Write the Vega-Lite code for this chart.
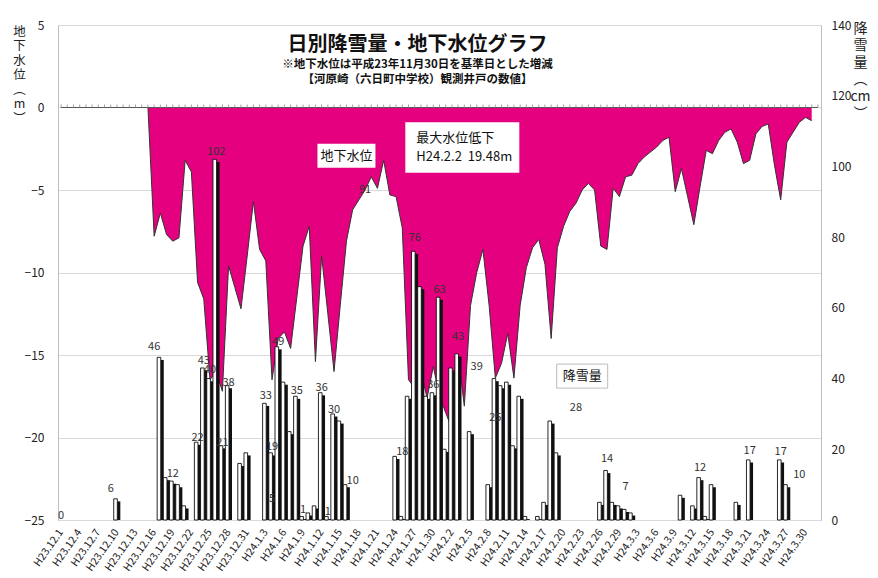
{
  "$schema": "https://vega.github.io/schema/vega-lite/v6.json",
  "width": 763,
  "height": 495,
  "autosize": {"type": "none"},
  "padding": {"left": 58, "top": 25, "right": 57, "bottom": 58},
  "background": "white",
  "config": {
    "font": "Noto Sans CJK JP",
    "view": {"stroke": null},
    "axis": {"labelFont": "Noto Sans CJK JP", "titleFont": "Noto Sans CJK JP", "labelColor": "#222", "titleColor": "#222", "titleFontWeight": "normal"}
  },
  "title": {
    "text": "日別降雪量・地下水位グラフ",
    "subtitle": ["※地下水位は平成23年11月30日を基準日とした増減", "【河原崎（六日町中学校）観測井戸の数値】"],
    "anchor": "middle",
    "frame": "group",
    "offset": -66,
    "dx": -22,
    "fontSize": 20,
    "fontWeight": "bold",
    "color": "#111",
    "subtitleFontSize": 11.5,
    "subtitleFontWeight": "bold",
    "subtitleColor": "#111",
    "subtitleLineHeight": 15,
    "subtitlePadding": 3.5
  },
  "data": {
    "values": [
      {"d": "H23.12.1", "gw": 0, "sn": 0, "lab": "0", "lv": 1},
      {"d": "H23.12.2", "gw": 0, "sn": 0},
      {"d": "H23.12.3", "gw": 0, "sn": 0},
      {"d": "H23.12.4", "gw": 0, "sn": 0},
      {"d": "H23.12.5", "gw": 0, "sn": 0},
      {"d": "H23.12.6", "gw": 0, "sn": 0},
      {"d": "H23.12.7", "gw": 0, "sn": 0},
      {"d": "H23.12.8", "gw": 0, "sn": 0},
      {"d": "H23.12.9", "gw": 0, "sn": 0, "lab": "6", "lv": 8.8},
      {"d": "H23.12.10", "gw": 0, "sn": 6},
      {"d": "H23.12.11", "gw": 0, "sn": 0},
      {"d": "H23.12.12", "gw": 0, "sn": 0},
      {"d": "H23.12.13", "gw": 0, "sn": 0},
      {"d": "H23.12.14", "gw": 0, "sn": 0},
      {"d": "H23.12.15", "gw": 0, "sn": 0},
      {"d": "H23.12.16", "gw": -7.8, "sn": 0, "lab": "46", "lv": 49},
      {"d": "H23.12.17", "gw": -6.4, "sn": 46},
      {"d": "H23.12.18", "gw": -7.7, "sn": 12},
      {"d": "H23.12.19", "gw": -8.1, "sn": 11, "lab": "12", "lv": 13},
      {"d": "H23.12.20", "gw": -7.9, "sn": 10},
      {"d": "H23.12.21", "gw": -3.2, "sn": 4},
      {"d": "H23.12.22", "gw": -3.9, "sn": 0},
      {"d": "H23.12.23", "gw": -10.6, "sn": 22, "lab": "22", "lv": 23.2},
      {"d": "H23.12.24", "gw": -11.6, "sn": 43, "lab": "43", "lv": 44.9},
      {"d": "H23.12.25", "gw": -16.5, "sn": 40, "lab": "40", "lv": 42.4},
      {"d": "H23.12.26", "gw": -16.0, "sn": 102, "lab": "102", "lv": 104},
      {"d": "H23.12.27", "gw": -17.2, "sn": 21, "lab": "21", "lv": 21.9},
      {"d": "H23.12.28", "gw": -9.6, "sn": 38, "lab": "38", "lv": 38.8},
      {"d": "H23.12.29", "gw": -10.9, "sn": 0},
      {"d": "H23.12.30", "gw": -12.2, "sn": 16},
      {"d": "H23.12.31", "gw": -9.0, "sn": 19},
      {"d": "H24.1.1", "gw": -5.7, "sn": 0},
      {"d": "H24.1.2", "gw": -8.6, "sn": 0},
      {"d": "H24.1.3", "gw": -9.3, "sn": 33, "lab": "33", "lv": 35.1},
      {"d": "H24.1.4", "gw": -16.5, "sn": 19, "lab": "19", "lv": 20.6, "lab2": "5", "lv2": 5.9},
      {"d": "H24.1.5", "gw": -14.0, "sn": 49, "lab": "49", "lv": 50.4},
      {"d": "H24.1.6", "gw": -13.6, "sn": 39},
      {"d": "H24.1.7", "gw": -14.6, "sn": 25},
      {"d": "H24.1.8", "gw": -11.5, "sn": 35, "lab": "35", "lv": 36.4},
      {"d": "H24.1.9", "gw": -8.4, "sn": 1, "lab": "1", "lv": 2.8},
      {"d": "H24.1.10", "gw": -7.2, "sn": 2},
      {"d": "H24.1.11", "gw": -15.4, "sn": 4},
      {"d": "H24.1.12", "gw": -9.0, "sn": 36, "lab": "36", "lv": 37.2},
      {"d": "H24.1.13", "gw": -12.5, "sn": 1, "lab": "1", "lv": 2.3},
      {"d": "H24.1.14", "gw": -16.0, "sn": 30, "lab": "30", "lv": 31.1},
      {"d": "H24.1.15", "gw": -12.0, "sn": 28},
      {"d": "H24.1.16", "gw": -8.1, "sn": 10},
      {"d": "H24.1.17", "gw": -6.2, "sn": 0, "lab": "10", "lv": 11},
      {"d": "H24.1.18", "gw": -5.6, "sn": 0},
      {"d": "H24.1.19", "gw": -5.0, "sn": 0, "lab": "91", "lv": 93.3},
      {"d": "H24.1.20", "gw": -4.2, "sn": 0},
      {"d": "H24.1.21", "gw": -4.9, "sn": 0},
      {"d": "H24.1.22", "gw": -3.2, "sn": 0},
      {"d": "H24.1.23", "gw": -5.3, "sn": 0},
      {"d": "H24.1.24", "gw": -5.4, "sn": 18},
      {"d": "H24.1.25", "gw": -7.3, "sn": 1, "lab": "18", "lv": 19.3},
      {"d": "H24.1.26", "gw": -16.5, "sn": 35},
      {"d": "H24.1.27", "gw": -17.0, "sn": 76, "lab": "76", "lv": 79.8},
      {"d": "H24.1.28", "gw": -16.0, "sn": 66},
      {"d": "H24.1.29", "gw": -17.6, "sn": 35},
      {"d": "H24.1.30", "gw": -15.7, "sn": 36, "lab": "36", "lv": 38.1},
      {"d": "H24.1.31", "gw": -17.5, "sn": 63, "lab": "63", "lv": 65},
      {"d": "H24.2.1", "gw": -18.5, "sn": 20},
      {"d": "H24.2.2", "gw": -19.48, "sn": 43},
      {"d": "H24.2.3", "gw": -15.0, "sn": 47, "lab": "43", "lv": 51.8},
      {"d": "H24.2.4", "gw": -18.1, "sn": 0},
      {"d": "H24.2.5", "gw": -12.0, "sn": 25},
      {"d": "H24.2.6", "gw": -10.0, "sn": 0, "lab": "39", "lv": 43.3},
      {"d": "H24.2.7", "gw": -8.6, "sn": 0},
      {"d": "H24.2.8", "gw": -12.0, "sn": 10},
      {"d": "H24.2.9", "gw": -16.4, "sn": 40, "lab": "25", "lv": 28.9},
      {"d": "H24.2.10", "gw": -15.5, "sn": 38},
      {"d": "H24.2.11", "gw": -13.7, "sn": 39},
      {"d": "H24.2.12", "gw": -16.4, "sn": 21},
      {"d": "H24.2.13", "gw": -12.0, "sn": 35},
      {"d": "H24.2.14", "gw": -9.7, "sn": 1},
      {"d": "H24.2.15", "gw": -8.5, "sn": 0},
      {"d": "H24.2.16", "gw": -8.0, "sn": 1},
      {"d": "H24.2.17", "gw": -9.5, "sn": 5},
      {"d": "H24.2.18", "gw": -14.0, "sn": 28},
      {"d": "H24.2.19", "gw": -8.5, "sn": 19},
      {"d": "H24.2.20", "gw": -7.2, "sn": 0},
      {"d": "H24.2.21", "gw": -6.3, "sn": 0},
      {"d": "H24.2.22", "gw": -5.8, "sn": 0, "lab": "28", "lv": 31.7},
      {"d": "H24.2.23", "gw": -5.0, "sn": 0},
      {"d": "H24.2.24", "gw": -4.6, "sn": 0},
      {"d": "H24.2.25", "gw": -5.0, "sn": 0},
      {"d": "H24.2.26", "gw": -8.4, "sn": 5},
      {"d": "H24.2.27", "gw": -8.6, "sn": 14, "lab": "14", "lv": 17.2},
      {"d": "H24.2.28", "gw": -4.9, "sn": 5},
      {"d": "H24.2.29", "gw": -5.4, "sn": 4},
      {"d": "H24.3.1", "gw": -4.2, "sn": 3, "lab": "7", "lv": 9.4},
      {"d": "H24.3.2", "gw": -4.1, "sn": 2},
      {"d": "H24.3.3", "gw": -3.4, "sn": 0},
      {"d": "H24.3.4", "gw": -3.0, "sn": 0},
      {"d": "H24.3.5", "gw": -2.7, "sn": 0},
      {"d": "H24.3.6", "gw": -2.4, "sn": 0},
      {"d": "H24.3.7", "gw": -2.0, "sn": 0},
      {"d": "H24.3.8", "gw": -1.8, "sn": 0},
      {"d": "H24.3.9", "gw": -5.1, "sn": 0},
      {"d": "H24.3.10", "gw": -3.7, "sn": 7},
      {"d": "H24.3.11", "gw": -5.4, "sn": 0},
      {"d": "H24.3.12", "gw": -7.1, "sn": 4},
      {"d": "H24.3.13", "gw": -4.8, "sn": 12, "lab": "12", "lv": 14.8},
      {"d": "H24.3.14", "gw": -2.6, "sn": 1},
      {"d": "H24.3.15", "gw": -2.8, "sn": 10},
      {"d": "H24.3.16", "gw": -2.0, "sn": 0},
      {"d": "H24.3.17", "gw": -1.5, "sn": 0},
      {"d": "H24.3.18", "gw": -1.3, "sn": 0},
      {"d": "H24.3.19", "gw": -2.1, "sn": 5},
      {"d": "H24.3.20", "gw": -3.4, "sn": 0},
      {"d": "H24.3.21", "gw": -3.2, "sn": 17, "lab": "17", "lv": 19.5},
      {"d": "H24.3.22", "gw": -1.6, "sn": 0},
      {"d": "H24.3.23", "gw": -1.15, "sn": 0},
      {"d": "H24.3.24", "gw": -1.0, "sn": 0},
      {"d": "H24.3.25", "gw": -3.5, "sn": 0},
      {"d": "H24.3.26", "gw": -5.6, "sn": 17, "lab": "17", "lv": 19.3},
      {"d": "H24.3.27", "gw": -2.1, "sn": 10},
      {"d": "H24.3.28", "gw": -1.5, "sn": 0},
      {"d": "H24.3.29", "gw": -0.9, "sn": 0, "lab": "10", "lv": 12.7},
      {"d": "H24.3.30", "gw": -0.6, "sn": 0},
      {"d": "H24.3.31", "gw": -0.8, "sn": 0},
      {"d": "H24.4.1", "gw": null, "sn": null}
    ]
  },
  "encoding": {
    "x": {
      "field": "d",
      "type": "ordinal",
      "sort": null,
      "scale": {"paddingInner": 0, "paddingOuter": 0},
      "axis": {
        "title": null,
        "values": ["H23.12.1","H23.12.4","H23.12.7","H23.12.10","H23.12.13","H23.12.16","H23.12.19","H23.12.22","H23.12.25","H23.12.28","H23.12.31","H24.1.3","H24.1.6","H24.1.9","H24.1.12","H24.1.15","H24.1.18","H24.1.21","H24.1.24","H24.1.27","H24.1.30","H24.2.2","H24.2.5","H24.2.8","H24.2.11","H24.2.14","H24.2.17","H24.2.20","H24.2.23","H24.2.26","H24.2.29","H24.3.3","H24.3.6","H24.3.9","H24.3.12","H24.3.15","H24.3.18","H24.3.21","H24.3.24","H24.3.27","H24.3.30"],
        "labelAngle": -55,
        "labelAlign": "right",
        "labelBaseline": "middle",
        "labelFontSize": 10.5,
        "labelPadding": 10,
        "domain": false,
        "ticks": false,
        "grid": false
      }
    }
  },
  "layer": [
    {
      "layer": [
        {
          "mark": {"type": "area", "color": "#E5007F", "opacity": 1, "line": {"color": "#333333", "strokeWidth": 1}},
          "encoding": {
            "y": {
              "field": "gw",
              "type": "quantitative",
              "scale": {"domain": [-25, 5], "nice": false, "zero": false},
              "axis": {
                "orient": "left",
                "values": [-25, -20, -15, -10, -5, 0, 5],
                "grid": true,
                "gridColor": "#d9d9d9",
                "domainColor": "#bfbfbf",
                "ticks": false,
                "labelPadding": 14,
                "labelFontSize": 12,
                "title": ["地", "下", "水", "位", "︵", "m", "︶"],
                "titleAngle": 0,
                "titleAlign": "center",
                "titleBaseline": "top",
                "titleFontSize": 12.5,
                "titleLineHeight": 14.5,
                "titleX": -39,
                "titleY": 0
              }
            },
            "y2": {"datum": 0}
          }
        },
        {
          "mark": {"type": "line", "color": "#555555", "strokeWidth": 1},
          "encoding": {"y": {"datum": 0}}
        },
        {
          "mark": {"type": "rule", "color": "#8a8a8a", "strokeWidth": 0.8},
          "encoding": {"y": {"datum": 0}, "y2": {"datum": 0.18}}
        },
        {
          "data": {"values": [{}]},
          "mark": {"type": "bar", "fill": "white", "width": 58},
          "encoding": {"x": {"datum": "H24.1.16"}, "y": {"datum": -2.2}, "y2": {"datum": -3.65}}
        },
        {
          "data": {"values": [{}]},
          "mark": {"type": "text", "fontSize": 13, "color": "#111", "baseline": "middle"},
          "encoding": {"x": {"datum": "H24.1.16"}, "y": {"datum": -2.92}, "text": {"value": "地下水位"}}
        },
        {
          "data": {"values": [{}]},
          "mark": {"type": "bar", "fill": "white", "width": 114, "xOffset": -2},
          "encoding": {"x": {"datum": "H24.2.4"}, "y": {"datum": -0.9}, "y2": {"datum": -3.95}}
        },
        {
          "data": {"values": [{}]},
          "mark": {"type": "text", "fontSize": 13, "color": "#111", "baseline": "middle", "align": "left", "xOffset": -48},
          "encoding": {"x": {"datum": "H24.2.4"}, "y": {"datum": -1.82}, "text": {"value": "最大水位低下"}}
        },
        {
          "data": {"values": [{}]},
          "mark": {"type": "text", "fontSize": 13, "color": "#111", "baseline": "middle", "align": "left", "xOffset": -48},
          "encoding": {"x": {"datum": "H24.2.4"}, "y": {"datum": -3.03}, "text": {"value": "H24.2.2\u00a0\u00a019.48m"}}
        }
      ]
    },
    {
      "layer": [
        {
          "transform": [{"filter": "datum.sn > 0"}],
          "mark": {"type": "bar", "color": "#111111", "width": 3.6, "xOffset": 1.6, "yOffset": 2.6, "clip": true},
          "encoding": {
            "y": {
              "field": "sn",
              "type": "quantitative",
              "scale": {"domain": [0, 140], "nice": false},
              "axis": {"orient": "right", "values": [0, 20, 40, 60, 80, 100, 120, 140], "grid": false, "domainColor": "#bfbfbf", "ticks": false, "labelPadding": 10, "labelFontSize": 12, "title": ["降", "雪", "量", "︵", "cm", "︶"], "titleAngle": 0, "titleAlign": "center", "titleBaseline": "top", "titleFontSize": 14, "titleLineHeight": 17, "titleX": 39, "titleY": -4}
            }
          }
        },
        {
          "transform": [{"filter": "datum.sn > 0"}],
          "mark": {"type": "bar", "fill": "white", "stroke": "#111111", "strokeWidth": 0.9, "width": 3.6, "xOffset": -1.4},
          "encoding": {
            "y": {
              "field": "sn",
              "type": "quantitative",
              "axis": {"orient": "right", "values": [0, 20, 40, 60, 80, 100, 120, 140], "grid": false, "domainColor": "#bfbfbf", "ticks": false, "labelPadding": 10, "labelFontSize": 12, "title": ["降", "雪", "量", "︵", "cm", "︶"], "titleAngle": 0, "titleAlign": "center", "titleBaseline": "top", "titleFontSize": 14, "titleLineHeight": 17, "titleX": 39, "titleY": -4}
            }
          }
        },
        {
          "transform": [{"filter": "datum.lab != null"}],
          "mark": {"type": "text", "fontSize": 11, "color": "#333", "baseline": "middle"},
          "encoding": {
            "y": {
              "field": "lv",
              "type": "quantitative",
              "axis": {"orient": "right", "values": [0, 20, 40, 60, 80, 100, 120, 140], "grid": false, "domainColor": "#bfbfbf", "ticks": false, "labelPadding": 10, "labelFontSize": 12, "title": ["降", "雪", "量", "︵", "cm", "︶"], "titleAngle": 0, "titleAlign": "center", "titleBaseline": "top", "titleFontSize": 14, "titleLineHeight": 17, "titleX": 39, "titleY": -4}
            },
            "text": {"field": "lab"}
          }
        },
        {
          "transform": [{"filter": "datum.lab2 != null"}],
          "mark": {"type": "text", "fontSize": 11, "color": "#333", "baseline": "middle"},
          "encoding": {
            "y": {
              "field": "lv2",
              "type": "quantitative",
              "axis": {"orient": "right", "values": [0, 20, 40, 60, 80, 100, 120, 140], "grid": false, "domainColor": "#bfbfbf", "ticks": false, "labelPadding": 10, "labelFontSize": 12, "title": ["降", "雪", "量", "︵", "cm", "︶"], "titleAngle": 0, "titleAlign": "center", "titleBaseline": "top", "titleFontSize": 14, "titleLineHeight": 17, "titleX": 39, "titleY": -4}
            },
            "text": {"field": "lab2"}
          }
        },
        {
          "data": {"values": [{}]},
          "mark": {"type": "bar", "fill": "white", "stroke": "#bbbbbb", "strokeWidth": 1, "width": 51},
          "encoding": {
            "x": {"datum": "H24.2.23"},
            "y": {
              "datum": 44.1,
              "axis": {"orient": "right", "values": [0, 20, 40, 60, 80, 100, 120, 140], "grid": false, "domainColor": "#bfbfbf", "ticks": false, "labelPadding": 10, "labelFontSize": 12, "title": ["降", "雪", "量", "︵", "cm", "︶"], "titleAngle": 0, "titleAlign": "center", "titleBaseline": "top", "titleFontSize": 14, "titleLineHeight": 17, "titleX": 39, "titleY": -4}
            },
            "y2": {"datum": 37.3}
          }
        },
        {
          "data": {"values": [{}]},
          "mark": {"type": "text", "fontSize": 13, "color": "#111", "baseline": "middle"},
          "encoding": {
            "x": {"datum": "H24.2.23"},
            "y": {
              "datum": 40.7,
              "axis": {"orient": "right", "values": [0, 20, 40, 60, 80, 100, 120, 140], "grid": false, "domainColor": "#bfbfbf", "ticks": false, "labelPadding": 10, "labelFontSize": 12, "title": ["降", "雪", "量", "︵", "cm", "︶"], "titleAngle": 0, "titleAlign": "center", "titleBaseline": "top", "titleFontSize": 14, "titleLineHeight": 17, "titleX": 39, "titleY": -4}
            },
            "text": {"value": "降雪量"}
          }
        }
      ]
    }
  ],
  "resolve": {"scale": {"y": "independent"}}
}
